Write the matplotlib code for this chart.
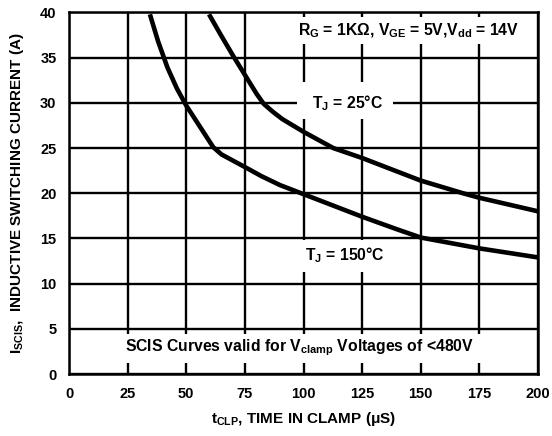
import matplotlib
matplotlib.use("Agg")
import matplotlib.pyplot as plt
from matplotlib.patches import Rectangle

plt.rcParams['font.family'] = ['Liberation Sans', 'DejaVu Sans']
plt.rcParams['font.weight'] = 'bold'
plt.rcParams['mathtext.fontset'] = 'custom'
plt.rcParams['mathtext.rm'] = 'Liberation Sans:bold'
plt.rcParams['mathtext.bf'] = 'Liberation Sans:bold'
plt.rcParams['mathtext.it'] = 'Liberation Sans:bold'

# Data
t25_x = [59.7, 65, 70, 75, 80, 83, 87, 91, 100, 112.7, 125, 140, 150, 168, 175, 200]
t25_y = [39.8, 37.4, 35.2, 33.1, 31.0, 29.9, 29.0, 28.2, 26.8, 25.0, 23.9, 22.4, 21.4, 20.0, 19.5, 18.0]

t150_x = [34.5, 38, 42, 46, 50, 54, 58, 61.5, 65, 70, 75, 82, 90, 100, 112, 125, 140, 150, 175, 200]
t150_y = [39.8, 36.8, 33.9, 31.6, 29.7, 28.1, 26.5, 25.1, 24.3, 23.6, 22.9, 21.9, 20.9, 19.9, 18.7, 17.4, 16.0, 15.1, 13.9, 12.9]

x_ticks = [0, 25, 50, 75, 100, 125, 150, 175, 200]
y_ticks = [0, 5, 10, 15, 20, 25, 30, 35, 40]

fig = plt.figure(figsize=(5.52, 4.36), dpi=100)
ax = fig.add_axes([69/552, 1-374/436, (538-69)/552, (374-12.5)/436])

ax.set_xlim(0, 200)
ax.set_ylim(0, 40)
ax.set_xticks(x_ticks)
ax.set_yticks(y_ticks)
ax.tick_params(length=0, labelsize=10.5, pad=9)
for lab in ax.get_xticklabels() + ax.get_yticklabels():
    lab.set_fontweight('bold')
ax.grid(True, color='black', linewidth=1.7, zorder=1)
ax.set_axisbelow(True)
for s in ax.spines.values():
    s.set_linewidth(1.8)
    s.set_zorder(5)

ax.plot(t25_x, t25_y, color='black', linewidth=3.3, zorder=4, solid_capstyle='butt')
ax.plot(t150_x, t150_y, color='black', linewidth=3.3, zorder=4, solid_capstyle='butt')

# white label backgrounds (gaps in the grid behind the labels)
for (x0, x1, y0, y1) in [(95.5, 193.6, 36.5, 39.5),
                         (97.2, 138.2, 28.2, 32.3),
                         (96.8, 138.6, 11.3, 14.8),
                         (18.3, 177.4, 1.2, 4.4)]:
    ax.add_patch(Rectangle((x0, y0), x1 - x0, y1 - y0, facecolor='white',
                           edgecolor='none', zorder=2))

fs = 11.3
ax.text(144.6, 38.0, r"$\mathbf{R_G}$ = 1KΩ, $\mathbf{V_{GE}}$ = 5V,$\mathbf{V_{dd}}$ = 14V",
        ha='center', va='center', fontsize=fs, fontweight='bold', zorder=3)
ax.text(118.6, 30.0, r"$\mathbf{T_J}$ = 25°C", ha='center', va='center',
        fontsize=fs, fontweight='bold', zorder=3)
ax.text(117.7, 13.2, r"$\mathbf{T_J}$ = 150°C", ha='center', va='center',
        fontsize=fs, fontweight='bold', zorder=3)
ax.text(98.5, 2.9, r"SCIS Curves valid for $\mathbf{V_{clamp}}$ Voltages of <480V",
        ha='center', va='center', fontsize=fs, fontweight='bold', zorder=3)

ax.set_xlabel(r"$\mathbf{t_{CLP}}$, TIME IN CLAMP (μS)", fontsize=11, fontweight='bold', labelpad=7)
ax.set_ylabel(r"$\mathbf{I_{SCIS}}$,  INDUCTIVE SWITCHING CURRENT (A)", fontsize=11, fontweight='bold', labelpad=10)

fig.savefig("out.png", dpi=100)
